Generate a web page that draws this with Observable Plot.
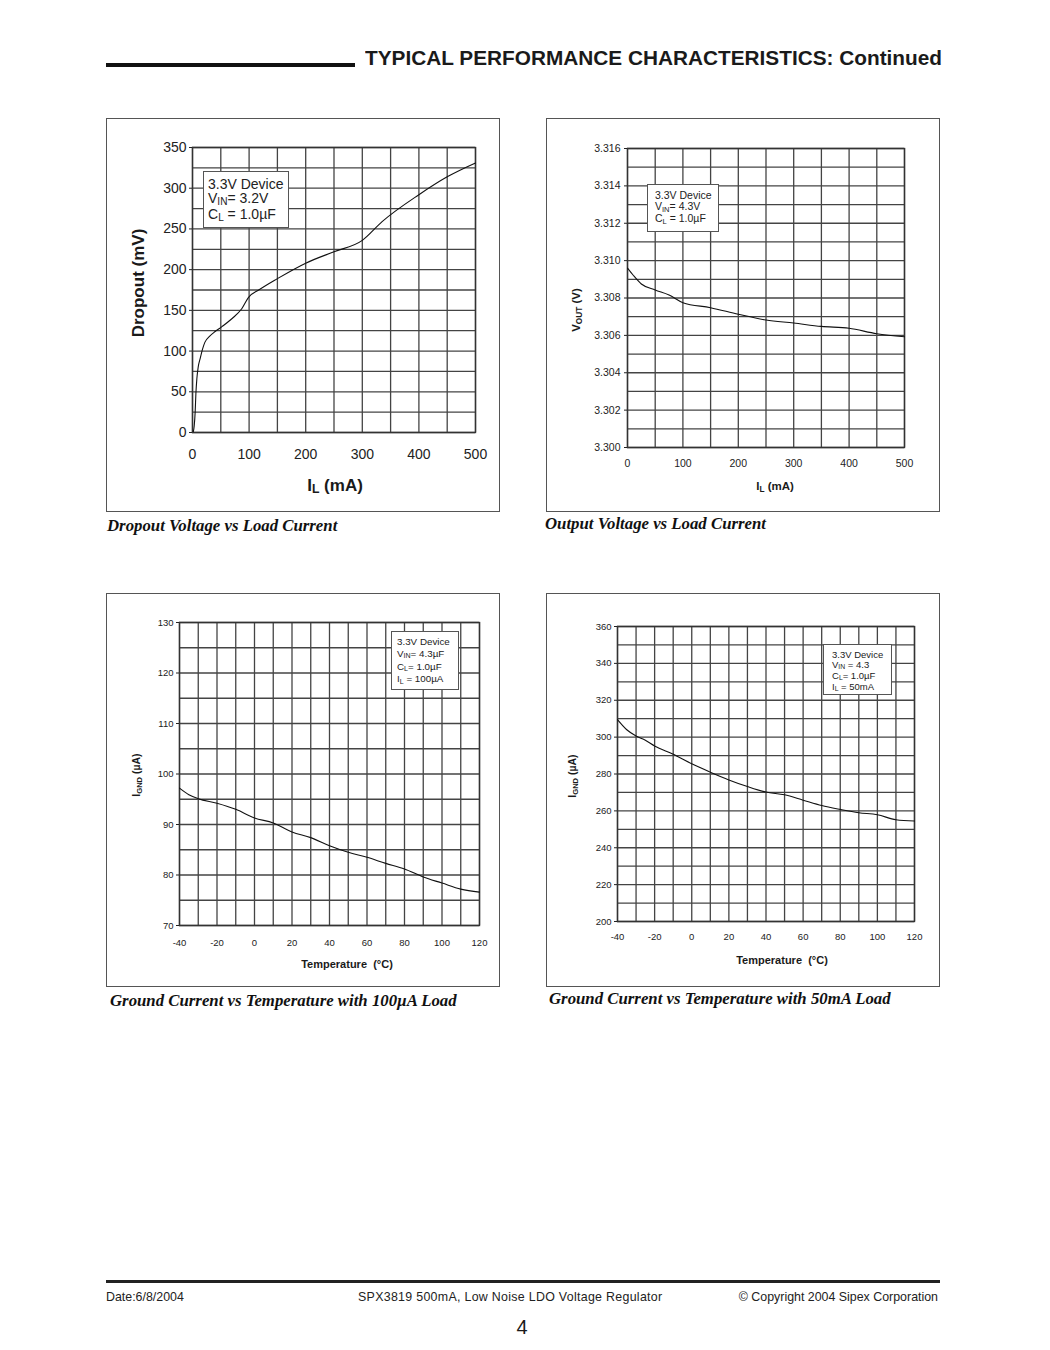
<!DOCTYPE html>
<html><head><meta charset="utf-8">
<script src="https://cdn.jsdelivr.net/npm/d3@7"></script>
<script src="https://cdn.jsdelivr.net/npm/@observablehq/plot@0.6"></script>
<style>
html,body{margin:0;padding:0;background:#fff}
body{width:1050px;height:1350px;position:relative;overflow:hidden;font-family:"Liberation Sans",Arial,Helvetica,sans-serif;color:#1a1a1a}
.a{position:absolute;white-space:nowrap}
.box{position:absolute;border:1px solid #555;box-sizing:border-box;width:394px;height:394px}
.chart{position:absolute}
.note{position:absolute;background:#fff;border:1.3px solid #555;box-sizing:border-box;color:#222;white-space:nowrap}
.s{font-size:0.72em;position:relative;top:0.2em}
.cap{position:absolute;font-family:"Liberation Serif","Times New Roman",serif;font-weight:bold;font-style:italic;font-size:16.8px;line-height:16px;white-space:nowrap;color:#111}
.t{position:absolute;font-weight:bold;white-space:nowrap;color:#1a1a1a;line-height:1}
.rot{transform:translate(-50%,-50%) rotate(-90deg)}
.ctr{transform:translate(-50%,-50%)}
.ft{position:absolute;font-size:12.4px;line-height:12px;white-space:nowrap;color:#222}
</style></head>
<body>
<div class="a" style="left:106px;top:63px;width:249px;height:4px;background:#111"></div>
<div class="t" id="hdr" style="left:365px;top:48px;font-size:20px;transform-origin:0 0">TYPICAL PERFORMANCE CHARACTERISTICS: Continued</div>

<div class="box" style="left:106px;top:118px"></div>
<div class="box" style="left:546px;top:118px"></div>
<div class="box" style="left:106px;top:593px"></div>
<div class="box" style="left:546px;top:593px"></div>

<div id="c1" class="chart" style="left:106px;top:118px"></div>
<div id="c2" class="chart" style="left:546px;top:118px"></div>
<div id="c3" class="chart" style="left:106px;top:593px"></div>
<div id="c4" class="chart" style="left:546px;top:593px"></div>

<!-- axis titles -->
<div class="t rot" style="left:137.5px;top:283px;font-size:17px">Dropout (mV)</div>
<div class="t ctr" style="left:335px;top:485px;font-size:17px">I<span class="s">L</span> (mA)</div>
<div class="t rot" style="left:576.5px;top:310px;font-size:11.5px">V<span class="s">OUT</span> (V)</div>
<div class="t ctr" style="left:775px;top:487px;font-size:11.5px">I<span class="s">L</span> (mA)</div>
<div class="t rot" style="left:135.5px;top:775px;font-size:10.5px">I<span class="s">GND</span> (µA)</div>
<div class="t ctr" style="left:347px;top:964px;font-size:11px">Temperature&nbsp;&nbsp;(°C)</div>
<div class="t rot" style="left:572px;top:776px;font-size:10.5px">I<span class="s">GND</span> (µA)</div>
<div class="t ctr" style="left:782px;top:960px;font-size:11px">Temperature&nbsp;&nbsp;(°C)</div>

<!-- condition notes -->
<div class="note" style="left:203px;top:171px;width:86px;height:57px;font-size:14px;line-height:14px;padding:5px 0 0 4px">3.3V Device<br>V<span class="s">IN</span>= 3.2V<br>C<span class="s">L</span> = 1.0µF</div>
<div class="note" style="left:647px;top:184px;width:72px;height:48px;font-size:10.5px;line-height:11px;padding:5px 0 0 7px">3.3V Device<br>V<span class="s">IN</span>= 4.3V<br>C<span class="s">L</span> = 1.0µF</div>
<div class="note" style="left:391px;top:631px;width:68px;height:59px;font-size:9.8px;line-height:11.8px;padding:4px 0 0 5px">3.3V Device<br>V<span class="s">IN</span>= 4.3µF<br>C<span class="s">L</span>= 1.0µF<br>I<span class="s">L</span> = 100µA</div>
<div class="note" style="left:823px;top:644px;width:69px;height:51px;font-size:9.5px;line-height:10px;padding:4.5px 0 0 8px">3.3V Device<br>V<span class="s">IN</span> = 4.3<br>C<span class="s">L</span>= 1.0µF<br>I<span class="s">L</span> = 50mA</div>

<!-- captions -->
<div class="cap" style="left:107px;top:518px">Dropout Voltage vs Load Current</div>
<div class="cap" style="left:545px;top:516px">Output Voltage vs Load Current</div>
<div class="cap" style="left:110px;top:993px">Ground Current vs Temperature with 100µA Load</div>
<div class="cap" style="left:549px;top:991px">Ground Current vs Temperature with 50mA Load</div>

<!-- footer -->
<div class="a" style="left:106px;top:1280px;width:834px;height:2.5px;background:#222"></div>
<div class="ft" style="left:106px;top:1291px">Date:6/8/2004</div>
<div class="ft" style="left:358px;top:1291px;letter-spacing:0.3px">SPX3819 500mA, Low Noise LDO Voltage Regulator</div>
<div class="ft" style="right:112px;top:1291px">© Copyright 2004 Sipex Corporation</div>
<div class="a" style="left:522px;top:1327px;font-size:20px;line-height:20px;transform:translate(-50%,-50%)">4</div>

<script>
// ---- Data ----
// Chart 1: Dropout Voltage vs Load Current
const il1 = [1.5, 3, 4.7, 6, 7.7, 10, 13.6, 18, 22, 30, 40, 52, 70, 87, 99, 117, 150, 200, 250, 300, 335, 400, 450, 500];
const dropout = [1, 8, 25, 48, 66, 80, 91, 103, 111, 118, 124, 130, 140, 152, 166, 175, 189, 208, 222, 236, 259, 292, 314, 331];

// Chart 2: Output Voltage vs Load Current
const il2 = [0, 10, 25, 50, 75, 100, 150, 200, 250, 300, 350, 400, 450, 500];
const vout = [3.3096, 3.30923, 3.30875, 3.30843, 3.30816, 3.30775, 3.30748, 3.30713, 3.30682, 3.30666, 3.30648, 3.30638, 3.30609, 3.30593];

// Chart 3: Ground Current vs Temperature, 100uA load
const temp3 = [-40, -35, -30, -20, -10, 0, 10, 20, 30, 40, 50, 60, 70, 80, 90, 100, 110, 120];
const ignd100uA = [97.2, 95.9, 95.1, 94.2, 93.0, 91.3, 90.3, 88.5, 87.4, 85.8, 84.5, 83.5, 82.3, 81.2, 79.6, 78.4, 77.2, 76.6];

// Chart 4: Ground Current vs Temperature, 50mA load
const temp4 = [-40, -35, -30, -25, -20, -10, 0, 10, 20, 30, 40, 50, 60, 70, 80, 90, 100, 110, 120];
const ignd50mA = [309.5, 304, 300.6, 298.3, 295.2, 290.7, 285.5, 281, 276.8, 273.2, 270.2, 268.7, 265.8, 262.9, 260.8, 259, 257.9, 255.2, 254.5];

// Tick / grid values
const x1Grid = d3.range(0, 501, 50), x1Ticks = [0, 100, 200, 300, 400, 500];
const y1Grid = d3.range(0, 351, 25), y1Ticks = [0, 50, 100, 150, 200, 250, 300, 350];
const x2Grid = d3.range(0, 501, 50), x2Ticks = [0, 100, 200, 300, 400, 500];
const y2Grid = d3.range(0, 17).map(i => 3.3 + i * 0.001), y2Ticks = [3.300, 3.302, 3.304, 3.306, 3.308, 3.310, 3.312, 3.314, 3.316];
const tGrid = d3.range(-40, 121, 10), tTicks = [-40, -20, 0, 20, 40, 60, 80, 100, 120];
const y3Grid = d3.range(70, 131, 5), y3Ticks = [70, 80, 90, 100, 110, 120, 130];
const y4Grid = d3.range(200, 361, 10), y4Ticks = [200, 220, 240, 260, 280, 300, 320, 340, 360];

const GRID = "#444";
function makeChart(o) {
  const data = o.xs.map((x, i) => ({x, y: o.ys[i]}));
  return Plot.plot({
    width: 394, height: 394,
    marginLeft: o.ml, marginRight: o.mr, marginTop: o.mt, marginBottom: o.mb,
    style: {fontFamily: '"Liberation Sans", Arial, sans-serif', fontSize: o.fs + "px", color: "#222", background: "transparent", overflow: "visible"},
    x: {domain: o.xDomain},
    y: {domain: o.yDomain},
    marks: [
      Plot.ruleX(o.xGrid, {stroke: GRID, strokeWidth: 1.3}),
      Plot.ruleY(o.yGrid, {stroke: GRID, strokeWidth: 1.3}),
      Plot.frame({stroke: "#333", strokeWidth: 1.4}),
      Plot.axisX({ticks: o.xTicks, tickSize: 0, tickPadding: o.xpad, label: null, tickFormat: o.xFmt || (d => String(d))}),
      Plot.axisY({ticks: o.yTicks, tickSize: 3, tickPadding: o.ypad, label: null, tickFormat: o.yFmt || (d => String(d))}),
      Plot.line(data, {x: "x", y: "y", stroke: "#111", strokeWidth: 1.1, curve: "monotone-x"})
    ]
  });
}

document.getElementById("c1").append(makeChart({
  xs: il1, ys: dropout, xDomain: [0, 500], yDomain: [0, 350],
  xGrid: x1Grid, yGrid: y1Grid, xTicks: x1Ticks, yTicks: y1Ticks,
  ml: 86, mr: 25, mt: 29, mb: 80, fs: 14, xpad: 17, ypad: 3
}));
document.getElementById("c2").append(makeChart({
  xs: il2, ys: vout, xDomain: [0, 500], yDomain: [3.3, 3.316],
  xGrid: x2Grid, yGrid: y2Grid, xTicks: x2Ticks, yTicks: y2Ticks,
  ml: 81, mr: 36, mt: 30, mb: 65, fs: 10.5, xpad: 12, ypad: 4, yFmt: d => d.toFixed(3)
}));
document.getElementById("c3").append(makeChart({
  xs: temp3, ys: ignd100uA, xDomain: [-40, 120], yDomain: [70, 130],
  xGrid: tGrid, yGrid: y3Grid, xTicks: tTicks, yTicks: y3Ticks,
  ml: 73, mr: 21, mt: 29, mb: 62, fs: 9.5, xpad: 14, ypad: 3
}));
document.getElementById("c4").append(makeChart({
  xs: temp4, ys: ignd50mA, xDomain: [-40, 120], yDomain: [200, 360],
  xGrid: tGrid, yGrid: y4Grid, xTicks: tTicks, yTicks: y4Ticks,
  ml: 71, mr: 26, mt: 33, mb: 66, fs: 9.5, xpad: 12, ypad: 3
}));

// fit header width to reference span
const hdr = document.getElementById("hdr");
const w = hdr.getBoundingClientRect().width;
hdr.style.transform = `scaleX(${577 / w})`;
</script>
</body></html>
